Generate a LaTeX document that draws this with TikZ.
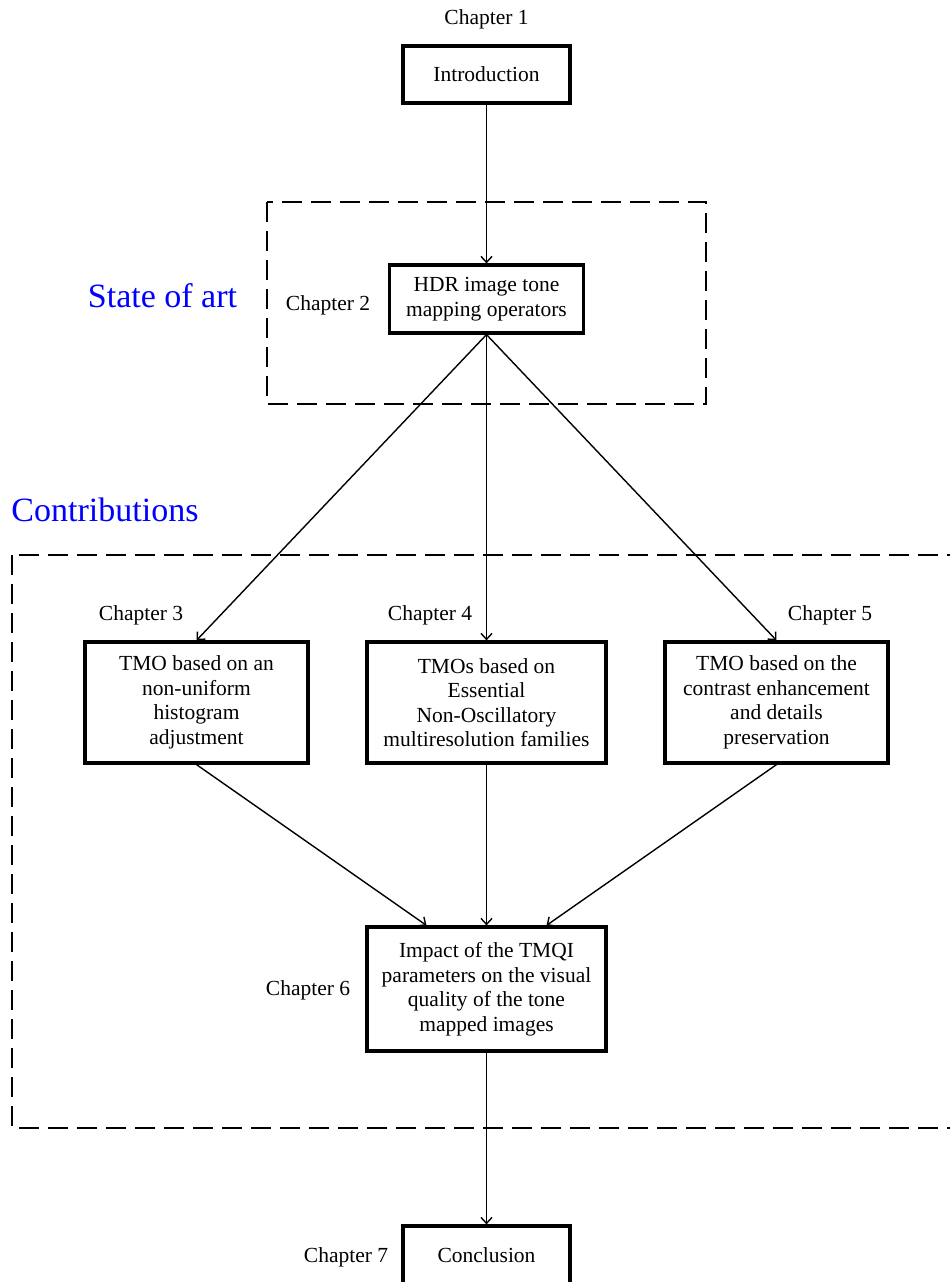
\documentclass[tikz,border=0pt]{standalone}
\usepackage{fontspec}
\setmainfont{Liberation Serif}
\usetikzlibrary{arrows.meta,calc}
\begin{document}
\begin{tikzpicture}[x=1pt,y=-1pt,
  box/.style={draw,line width=3.2pt,align=center,inner sep=0pt,font=\fontsize{21.5}{24.5}\selectfont},
  lbl/.style={font=\fontsize{21.5}{24.5}\selectfont,inner sep=0pt,anchor=base},
  big/.style={font=\fontsize{34}{38}\selectfont,text=blue,inner sep=0pt},
  conn/.style={line width=1.4pt,-{Straight Barb[length=6pt,width=11pt]}},
  frame/.style={line width=2pt,dash pattern=on 20pt off 9pt}]
\useasboundingbox (0,0) rectangle (950,1282);
\clip (0,0) rectangle (950,1282);

% dashed frames
\draw[frame] (267,202) rectangle (706,404);
\draw[frame] (12,555) rectangle (975,1128);

% boxes
\node[box,minimum width=167pt,minimum height=57pt] (intro) at (486.5,74.5) {Introduction};
\node[box,minimum width=194pt,minimum height=68pt] (hdr) at (486.5,299) {HDR image tone\\mapping operators};
\node[box,minimum width=223pt,minimum height=121pt] (c3) at (196.5,702.5) {TMO based on an\\non-uniform\\histogram\\adjustment};
\node[box,minimum width=239pt,minimum height=121pt] (c4) at (486.5,702.5) {TMOs based on\\Essential\\Non-Oscillatory\\multiresolution families};
\node[box,minimum width=223pt,minimum height=121pt] (c5) at (776.5,702.5) {TMO based on the\\contrast enhancement\\and details\\preservation};
\node[box,minimum width=239pt,minimum height=124pt] (c6) at (486.5,989) {Impact of the TMQI\\parameters on the visual\\quality of the tone\\mapped images};
\node[box,minimum width=167pt,minimum height=58pt] (c7) at (486.5,1255) {Conclusion};

% chapter labels
\node[lbl] (l1) at (486.5,24) {Chapter 1};
\node[lbl] (l2) at (328,310) {Chapter 2};
\node[lbl] (l3) at (141,620.5) {Chapter 3};
\node[lbl] (l4) at (430,620.5) {Chapter 4};
\node[lbl] (l5) at (830,620.5) {Chapter 5};
\node[lbl] (l6) at (308,995) {Chapter 6};
\node[lbl] (l7) at (346,1262) {Chapter 7};

% section titles
\node[big] (soa) at (162.5,296) {State of art};
\node[big] (contrib) at (105,510) {Contributions};

% connectors
\draw[conn] (intro.south) -- (hdr.north);
\draw[conn] (hdr.south) -- (c3.north);
\draw[conn] (hdr.south) -- (c4.north);
\draw[conn] (hdr.south) -- (c5.north);
\draw[conn] (c3.south) -- ($(c6.north)+(-60,0)$);
\draw[conn] (c4.south) -- (c6.north);
\draw[conn] (c5.south) -- ($(c6.north)+(60,0)$);
\draw[conn] (c6.south) -- (c7.north);
\end{tikzpicture}
\end{document}
